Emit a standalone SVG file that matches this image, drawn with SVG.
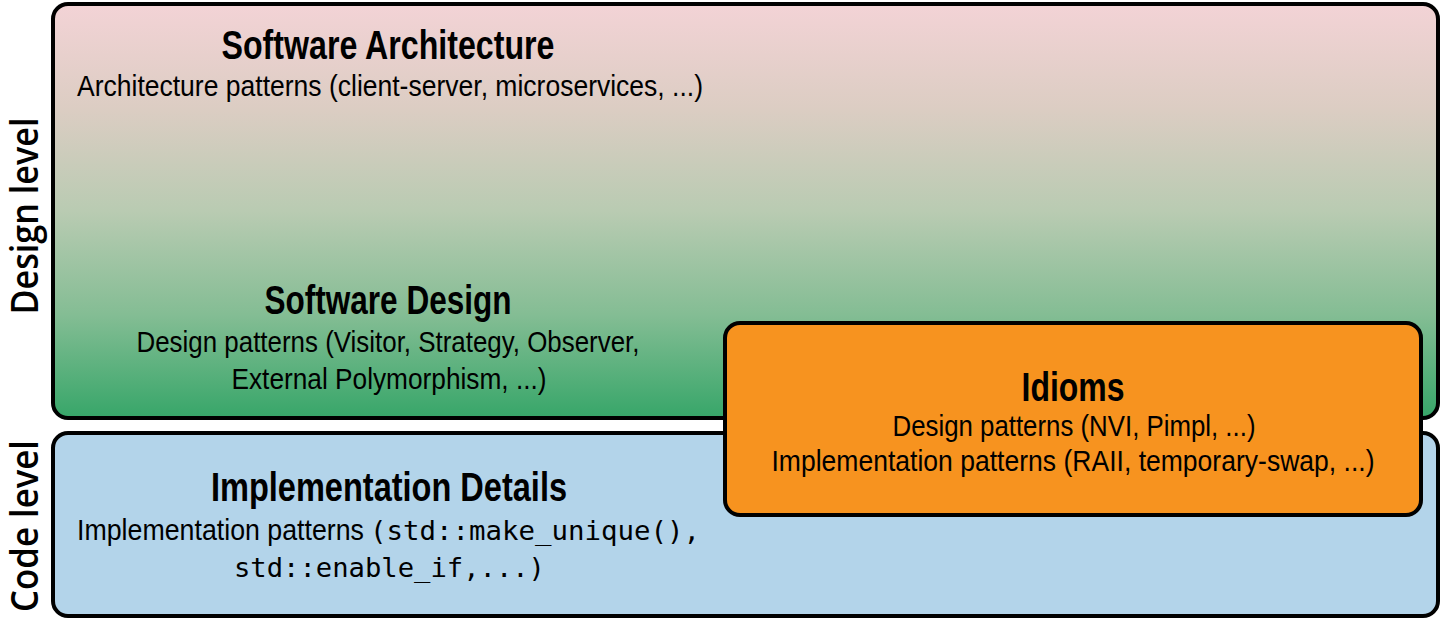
<svg xmlns="http://www.w3.org/2000/svg" width="1442" height="621" viewBox="0 0 1442 621">
<defs>
<linearGradient id="designGrad" x1="0" y1="0" x2="0" y2="1">
<stop offset="0" stop-color="#f3d3d6"/>
<stop offset="0.25" stop-color="#dccdc3"/>
<stop offset="0.5" stop-color="#b9cbb2"/>
<stop offset="0.75" stop-color="#84bd94"/>
<stop offset="1" stop-color="#37a669"/>
</linearGradient>
<style>
.box{stroke:#000;stroke-width:4}
.title{font-family:"Liberation Sans",Arial,sans-serif;font-weight:bold;font-size:40px;fill:#000}
.sub{font-family:"Liberation Sans",Arial,sans-serif;font-size:30px;fill:#000}
.mono{font-family:"DejaVu Sans Mono","Liberation Mono",monospace;font-size:27px;fill:#000}
.side{font-family:"Open Sans","Liberation Sans",sans-serif;font-weight:600;font-size:37px;fill:#000}
</style>
</defs>
<rect width="1442" height="621" fill="#fff"/>
<g id="design-level-label">
<text class="side" transform="translate(38,216) rotate(-90)" text-anchor="middle" textLength="197" lengthAdjust="spacingAndGlyphs">Design level</text>
</g>
<g id="code-level-label">
<text class="side" transform="translate(38,526) rotate(-90)" text-anchor="middle" textLength="172" lengthAdjust="spacingAndGlyphs">Code level</text>
</g>
<g id="design-box">
<rect class="box" x="53" y="4" width="1385" height="414" rx="15" fill="url(#designGrad)"/>
<text class="title" x="388" y="59" text-anchor="middle" textLength="333" lengthAdjust="spacingAndGlyphs">Software Architecture</text>
<text class="sub" x="390" y="96" text-anchor="middle" textLength="626" lengthAdjust="spacingAndGlyphs">Architecture patterns (client-server, microservices, ...)</text>
<text class="title" x="388" y="314" text-anchor="middle" textLength="247" lengthAdjust="spacingAndGlyphs">Software Design</text>
<text class="sub" x="388" y="352" text-anchor="middle" textLength="503" lengthAdjust="spacingAndGlyphs">Design patterns (Visitor, Strategy, Observer,</text>
<text class="sub" x="389" y="389" text-anchor="middle" textLength="315" lengthAdjust="spacingAndGlyphs">External Polymorphism, ...)</text>
</g>
<g id="code-box">
<rect class="box" x="53" y="433" width="1385" height="183" rx="15" fill="#b3d4ea"/>
<text class="title" x="389" y="501" text-anchor="middle" textLength="356" lengthAdjust="spacingAndGlyphs">Implementation Details</text>
<text class="sub" x="77" y="540" textLength="287" lengthAdjust="spacingAndGlyphs">Implementation patterns</text>
<text class="mono" x="370" y="540" textLength="330" lengthAdjust="spacingAndGlyphs">(std::make_unique(),</text>
<text class="mono" x="234" y="577" textLength="311" lengthAdjust="spacingAndGlyphs">std::enable_if,...)</text>
</g>
<g id="idioms-box">
<rect class="box" x="725" y="323" width="696" height="192" rx="15" fill="#f7931f"/>
<text class="title" x="1073" y="401" text-anchor="middle" textLength="103" lengthAdjust="spacingAndGlyphs">Idioms</text>
<text class="sub" x="1074" y="436" text-anchor="middle" textLength="363" lengthAdjust="spacingAndGlyphs">Design patterns (NVI, Pimpl, ...)</text>
<text class="sub" x="1073" y="471" text-anchor="middle" textLength="603" lengthAdjust="spacingAndGlyphs">Implementation patterns (RAII, temporary-swap, ...)</text>
</g>
<g id="connectors"/>
</svg>
